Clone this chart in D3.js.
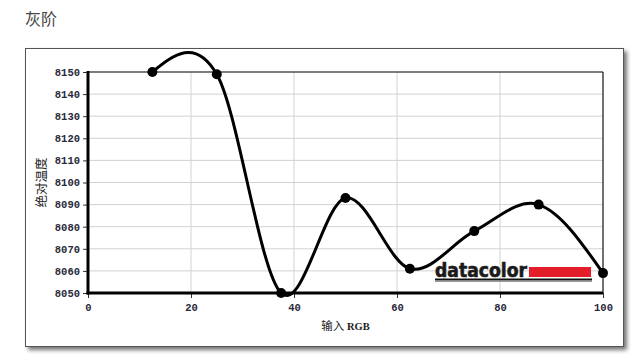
<!DOCTYPE html>
<html><head><meta charset="utf-8">
<script src="https://cdn.jsdelivr.net/npm/d3@7"></script>
<style>
html,body{margin:0;padding:0;background:#fff;}
svg{display:block;}
</style>
</head><body>
<svg id="c" width="640" height="363"></svg>
<script>
const title = "灰阶";
const xLabel = "输入 RGB";
const yLabel = "绝对温度";
const inputRGB = [12.5, 25, 37.5, 50, 62.5, 75, 87.5, 100];
const temperature = [8150, 8149, 8050, 8093, 8061, 8078, 8090, 8059];
const xTicks = [0, 20, 40, 60, 80, 100];
const yTicks = [8050, 8060, 8070, 8080, 8090, 8100, 8110, 8120, 8130, 8140, 8150];

// Catmull-Rom style spline with natural (zero-curvature) end conditions
function curveSmoothNatural(context) {
  let pts = [];
  return {
    areaStart(){}, areaEnd(){},
    lineStart(){ pts = []; },
    point(x, y){ pts.push([+x, +y]); },
    lineEnd(){
      const n = pts.length;
      if (!n) return;
      context.moveTo(pts[0][0], pts[0][1]);
      if (n === 1) return;
      if (n === 2) { context.lineTo(pts[1][0], pts[1][1]); return; }
      const m = pts.map(() => [0, 0]);
      for (let i = 1; i < n - 1; i++) {
        m[i] = [(pts[i+1][0] - pts[i-1][0]) / 2, (pts[i+1][1] - pts[i-1][1]) / 2];
      }
      m[0] = [(3*(pts[1][0]-pts[0][0]) - m[1][0]) / 2, (3*(pts[1][1]-pts[0][1]) - m[1][1]) / 2];
      m[n-1] = [(3*(pts[n-1][0]-pts[n-2][0]) - m[n-2][0]) / 2, (3*(pts[n-1][1]-pts[n-2][1]) - m[n-2][1]) / 2];
      for (let i = 0; i < n - 1; i++) {
        const p = pts[i], q = pts[i+1];
        context.bezierCurveTo(p[0] + m[i][0]/3, p[1] + m[i][1]/3,
                              q[0] - m[i+1][0]/3, q[1] - m[i+1][1]/3, q[0], q[1]);
      }
    }
  };
}

const svg = d3.select("#c");
const defs = svg.append("defs");
const f = defs.append("filter").attr("id","sh").attr("x","-5%").attr("y","-5%").attr("width","115%").attr("height","115%");
f.append("feGaussianBlur").attr("in","SourceAlpha").attr("stdDeviation",2);
f.append("feOffset").attr("dx",3).attr("dy",3).attr("result","o");
f.append("feComponentTransfer").append("feFuncA").attr("type","linear").attr("slope",0.55);
const mg = f.append("feMerge"); mg.append("feMergeNode"); mg.append("feMergeNode").attr("in","SourceGraphic");

svg.append("text").attr("x",25).attr("y",25).attr("font-family","'Noto Sans CJK SC'").attr("font-size",16).attr("fill","#444").text(title);

svg.append("rect").attr("x",25.5).attr("y",48.5).attr("width",598).attr("height",298)
  .attr("fill","#fff").attr("stroke","#555").attr("stroke-width",1).attr("filter","url(#sh)");

const x = d3.scaleLinear().domain([0,100]).range([88,603]);
const y = d3.scaleLinear().domain([8050,8150]).range([293,72]);

const g = svg.append("g");
g.selectAll(".gy").data(yTicks.slice(1)).join("line")
  .attr("x1",x(0)).attr("x2",x(100)).attr("y1",d=>y(d)).attr("y2",d=>y(d))
  .attr("stroke","#d2d2d2").attr("stroke-width",1);
g.selectAll(".gx").data(xTicks.slice(1,-1)).join("line")
  .attr("y1",y(8050)).attr("y2",y(8150)).attr("x1",d=>x(d)).attr("x2",d=>x(d))
  .attr("stroke","#d2d2d2").attr("stroke-width",1);
g.append("line").attr("x1",x(0)).attr("x2",x(100)).attr("y1",y(8150)).attr("y2",y(8150)).attr("stroke","#111").attr("stroke-width",1.2);
g.append("line").attr("x1",x(100)).attr("x2",x(100)).attr("y1",y(8150)).attr("y2",y(8050)).attr("stroke","#111").attr("stroke-width",1.2);

const tickFont = "'Liberation Mono', 'DejaVu Sans Mono', monospace";
const ya = d3.axisLeft(y).tickValues(yTicks).tickSize(5).tickPadding(3).tickFormat(d3.format("d"));
const yg = svg.append("g").attr("transform",`translate(${x(0)},0)`).call(ya);
const xa = d3.axisBottom(x).tickValues(xTicks).tickSize(5).tickPadding(4).tickFormat(d3.format("d"));
const xg = svg.append("g").attr("transform",`translate(0,${y(8050)})`).call(xa);
[yg,xg].forEach(a=>{
  a.select(".domain").remove();
  a.selectAll(".tick line").attr("stroke","#333");
  a.selectAll(".tick text").attr("font-family",tickFont).attr("font-weight","bold").attr("font-size",10.5).attr("fill","#2a2a3a");
});
xg.selectAll(".tick text").attr("dy","0.9em");
svg.append("line").attr("x1",x(0)).attr("x2",x(0)).attr("y1",y(8150)-1).attr("y2",y(8050)+1.5).attr("stroke","#000").attr("stroke-width",3);
svg.append("line").attr("x1",x(0)-1.5).attr("x2",x(100)).attr("y1",y(8050)).attr("y2",y(8050)).attr("stroke","#000").attr("stroke-width",3);

svg.append("text").attr("transform",`translate(46,${(y(8050)+y(8150))/2}) rotate(-90)`)
  .attr("text-anchor","middle").attr("font-family","'Noto Sans CJK SC'").attr("font-size",12.5).attr("fill","#222").text(yLabel);
const xl = svg.append("text").attr("x",(x(0)+x(100))/2).attr("y",330).attr("text-anchor","middle")
  .attr("font-size",11.5).attr("fill","#222");
xl.append("tspan").attr("font-family","'Noto Sans CJK SC'").text(xLabel.split(" ")[0] + " ");
xl.append("tspan").attr("font-family","'Liberation Serif', serif").attr("font-weight","bold").attr("font-size",10.5).text(xLabel.split(" ")[1]);

// logo watermark
const lg = svg.append("g");
lg.append("text").attr("x",435).attr("y",277).attr("font-family","'DejaVu Sans', sans-serif").attr("font-weight","bold")
  .attr("font-size",19).attr("textLength",92).attr("lengthAdjust","spacingAndGlyphs").attr("fill","#1a1a1a")
  .attr("stroke","#1a1a1a").attr("stroke-width",0.6).text("datacolor");
lg.append("rect").attr("x",529).attr("y",267).attr("width",62).attr("height",10).attr("fill","#e31e2a");
lg.append("line").attr("x1",435).attr("x2",592).attr("y1",279.5).attr("y2",279.5).attr("stroke","#111").attr("stroke-width",2);
lg.append("line").attr("x1",435).attr("x2",592).attr("y1",281.5).attr("y2",281.5).attr("stroke","#999").attr("stroke-width",1);

const pts = inputRGB.map((v,i)=>[v,temperature[i]]);
const line = d3.line().x(d=>x(d[0])).y(d=>y(d[1])).curve(curveSmoothNatural);
svg.append("path").attr("d",line(pts)).attr("fill","none").attr("stroke","#000").attr("stroke-width",3).attr("stroke-linejoin","round");
svg.selectAll(".pt").data(pts).join("circle").attr("cx",d=>x(d[0])).attr("cy",d=>y(d[1])).attr("r",5).attr("fill","#000");
</script>
</body></html>
